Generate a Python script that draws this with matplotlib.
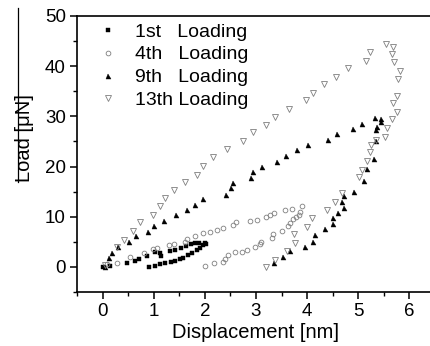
import matplotlib
matplotlib.use("Agg")
import matplotlib.pyplot as plt
from matplotlib.lines import Line2D
from matplotlib.ticker import MultipleLocator

plt.rcParams['font.family'] = ['Liberation Sans', 'DejaVu Sans']

# 1st loading (filled squares)
first_x = [0.00, 0.14, 0.48, 0.64, 0.72, 0.87, 1.03, 1.13, 1.14, 1.32, 1.42, 1.53,
           1.63, 1.72, 1.81, 1.89, 1.97, 2.00, 2.03,
           1.91, 1.84, 1.74, 1.68, 1.58, 1.52, 1.42, 1.33, 1.22, 1.13, 1.02, 0.90]
first_y = [0.05, 0.20, 0.86, 1.26, 1.50, 2.26, 2.90, 2.70, 2.20, 3.25, 3.40, 3.70,
           4.20, 4.50, 4.70, 4.70, 4.40, 4.80, 4.60,
           3.70, 3.40, 2.85, 2.40, 1.73, 1.53, 1.20, 1.06, 0.73, 0.53, 0.20, 0.07]

# 4th loading (open circles)
fourth_x = [0.08, 0.29, 0.53, 0.81, 0.98, 1.06, 1.30, 1.39, 1.62, 1.65, 1.81, 1.97,
            2.10, 2.23, 2.36, 2.56, 2.60, 2.88, 3.01, 3.20, 3.27, 3.35, 3.57, 3.71, 3.89,
            3.87, 3.84, 3.78, 3.72, 3.67, 3.62, 3.50, 3.34, 3.32, 3.10, 3.07, 2.98,
            2.82, 2.72, 2.59, 2.45, 2.40, 2.36, 2.18, 2.00]
fourth_y = [0.50, 0.86, 2.05, 2.85, 3.50, 3.70, 4.30, 4.50, 5.00, 5.60, 6.20, 6.70,
            6.90, 7.30, 7.80, 8.40, 8.90, 9.10, 9.40, 10.0, 10.4, 10.8, 11.3, 11.6, 12.1,
            11.0, 10.3, 10.0, 9.60, 8.80, 8.10, 7.10, 6.50, 5.80, 5.00, 4.50, 3.90,
            3.45, 2.90, 3.00, 2.30, 1.60, 1.00, 0.80, 0.20]

# 9th loading (filled up-triangles)
ninth_x = [0.05, 0.12, 0.18, 0.30, 0.52, 0.66, 0.89, 1.00, 1.20, 1.44, 1.65, 1.80,
           1.97, 2.41, 2.51, 2.55, 2.90, 2.95, 3.11, 3.42, 3.59, 3.81, 4.02, 4.41,
           4.58, 4.90, 5.08, 5.33, 5.44, 5.45,
           5.36, 5.34, 5.34, 5.31, 5.18, 5.12, 4.92, 4.72, 4.69, 4.73, 4.61, 4.50,
           4.51, 4.34, 4.15, 4.11, 3.96, 3.67, 3.52, 3.36]
ninth_y = [0.0, 1.8, 2.8, 4.0, 4.9, 6.1, 6.9, 8.2, 9.2, 10.4, 11.4, 12.3,
           13.5, 14.3, 15.8, 16.8, 17.8, 18.9, 20.0, 21.0, 22.1, 23.3, 24.3, 25.3,
           26.5, 27.4, 28.4, 29.6, 29.4, 28.9,
           27.9, 27.3, 25.1, 21.5, 19.5, 17.2, 14.9, 14.1, 13.0, 11.7, 10.7, 9.7,
           8.6, 7.5, 6.4, 5.05, 4.05, 3.25, 2.05, 0.85]

# 13th loading (open down-triangles)
thirteenth_x = [0.04, 0.28, 0.41, 0.59, 0.74, 0.98, 1.13, 1.22, 1.39, 1.61, 1.84,
                1.97, 2.16, 2.43, 2.74, 2.94, 3.19, 3.37, 3.64, 3.97, 4.12, 4.32,
                4.56, 4.80, 5.15, 5.23, 5.55, 5.68,
                5.65, 5.70, 5.81, 5.78, 5.76, 5.68, 5.75, 5.66, 5.57, 5.52, 5.34,
                5.25, 5.22, 5.18, 5.08, 5.02, 4.68, 4.54, 4.38, 4.10, 3.99, 3.74,
                3.77, 3.60, 3.38, 3.20]
thirteenth_y = [0.45, 4.0, 5.45, 7.1, 8.9, 10.3, 12.1, 13.7, 15.3, 16.9, 18.4,
                20.1, 21.9, 23.5, 25.0, 26.8, 28.2, 29.9, 31.4, 33.3, 34.6, 36.5,
                37.8, 39.6, 41.1, 42.8, 44.4, 43.9,
                42.4, 40.8, 39.1, 37.4, 34.1, 32.7, 30.9, 29.5, 27.6, 25.9, 25.2,
                24.3, 22.8, 21.2, 19.4, 17.9, 14.8, 12.9, 11.4, 9.7, 8.0, 6.6,
                4.75, 3.2, 1.4, -0.05]

labels = ["1st   Loading", "4th   Loading", "9th   Loading", "13th Loading"]

fig = plt.figure(figsize=(4.30, 3.46), dpi=100)
ax = fig.add_axes([77 / 430, 54 / 346, 358 / 430, 276 / 346])

gray = "#7f7f7f"
ax.plot(first_x, first_y, ls="none", marker="s", ms=2.6, mfc="black", mec="black",
        mew=0.3, label=labels[0])
ax.plot(fourth_x, fourth_y, ls="none", marker="o", ms=3.4, mfc="none", mec=gray,
        mew=0.6, label=labels[1])
ax.plot(ninth_x, ninth_y, ls="none", marker="^", ms=3.6, mfc="black", mec="black",
        mew=0.3, label=labels[2])
ax.plot(thirteenth_x, thirteenth_y, ls="none", marker="v", ms=4.0, mfc="none",
        mec=gray, mew=0.6, label=labels[3])

ax.set_xlim(-0.5, 6.5)
ax.set_ylim(-5, 50)
ax.xaxis.set_major_locator(MultipleLocator(1))
ax.xaxis.set_minor_locator(MultipleLocator(0.5))
ax.yaxis.set_major_locator(MultipleLocator(10))
ax.yaxis.set_minor_locator(MultipleLocator(5))
ax.tick_params(which="major", direction="out", length=5, width=1.1,
               labelsize=13.5, pad=3)
ax.tick_params(which="minor", direction="out", length=3, width=1.0)
ax.spines["right"].set_visible(False)
for s in ["left", "bottom", "top"]:
    ax.spines[s].set_linewidth(1.2)

ax.set_xlabel("Displacement [nm]", fontsize=14.5, labelpad=2)
fig.text(25 / 430, 1 - 138 / 346, "Load [\u03bcN]", rotation=90, ha="center",
         va="center", fontsize=14.5)
fig.add_artist(Line2D([18 / 430, 18 / 430], [1 - 8 / 346, 1 - 182 / 346],
                      transform=fig.transFigure, color="black", lw=0.9))

ax.legend(loc="upper left", bbox_to_anchor=(100 / 430, 1 - 23 / 346),
          bbox_transform=fig.transFigure, frameon=False, fontsize=14,
          handlelength=0.8, handletextpad=1.0, labelspacing=0.27, borderpad=0,
          borderaxespad=0, numpoints=1, markerscale=1.0)

fig.savefig("out.png", dpi=100)
